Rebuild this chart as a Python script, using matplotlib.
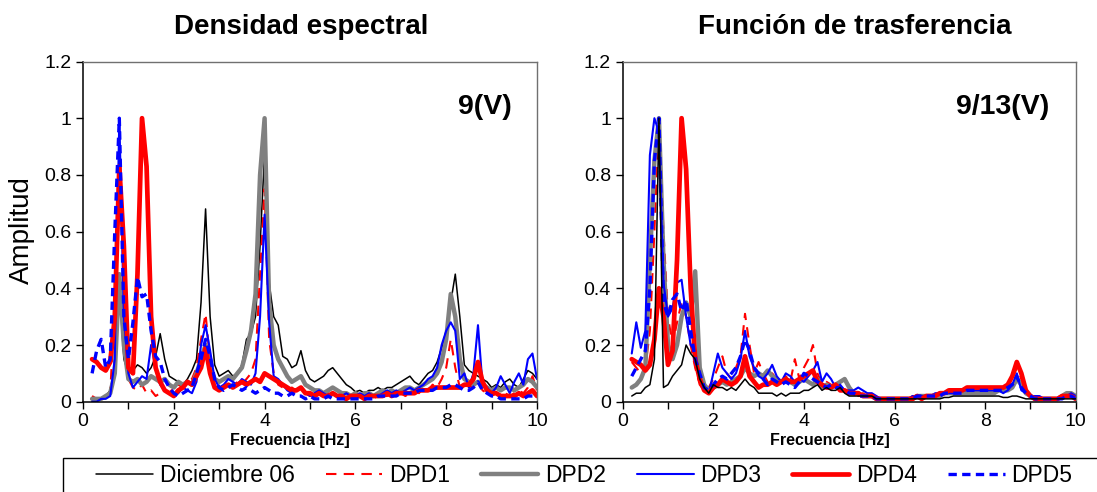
import numpy as np
import matplotlib
matplotlib.use('Agg')
import matplotlib.pyplot as plt
from matplotlib.ticker import MultipleLocator
from matplotlib.patches import Rectangle

plt.rcParams['font.family'] = ['Liberation Sans', 'DejaVu Sans']

# frequency grid [Hz], 0.2 .. 10.0
freq = np.round(np.arange(0.2, 10.001, 0.1), 1)

names = ["Diciembre 06", "DPD1", "DPD2", "DPD3", "DPD4", "DPD5"]

# ---- Densidad espectral (left) ----
dic_l = [0.01, 0.01, 0.01, 0.02, 0.04, 0.12, 0.40, 0.15, 0.10, 0.11,
         0.13, 0.12, 0.10, 0.12, 0.16, 0.24, 0.15, 0.09, 0.08, 0.07,
         0.06, 0.08, 0.11, 0.15, 0.35, 0.68, 0.30, 0.13, 0.09, 0.10,
         0.11, 0.09, 0.10, 0.13, 0.22, 0.24, 0.30, 0.55, 0.88, 0.42,
         0.30, 0.27, 0.16, 0.15, 0.12, 0.13, 0.18, 0.11, 0.08, 0.07,
         0.08, 0.09, 0.11, 0.12, 0.10, 0.08, 0.06, 0.05, 0.035, 0.04,
         0.03, 0.04, 0.04, 0.05, 0.04, 0.05, 0.05, 0.06, 0.07, 0.08,
         0.09, 0.07, 0.06, 0.08, 0.10, 0.11, 0.14, 0.19, 0.25, 0.35,
         0.45, 0.30, 0.13, 0.11, 0.10, 0.09, 0.08, 0.07, 0.05, 0.06,
         0.05, 0.07, 0.08, 0.06, 0.05, 0.08, 0.11, 0.10, 0.08]
dpd1_l = [0.02, 0.01, 0.01, 0.01, 0.03, 0.35, 0.70, 0.55, 0.08, 0.05,
          0.04, 0.06, 0.03, 0.04, 0.02, 0.03, 0.04, 0.03, 0.05, 0.06,
          0.05, 0.07, 0.08, 0.12, 0.22, 0.31, 0.14, 0.06, 0.04, 0.05,
          0.06, 0.05, 0.07, 0.06, 0.08, 0.10, 0.15, 0.45, 0.75, 0.22,
          0.10, 0.06, 0.05, 0.04, 0.05, 0.04, 0.03, 0.03, 0.02, 0.03,
          0.03, 0.02, 0.03, 0.02, 0.02, 0.03, 0.02, 0.01, 0.02, 0.02,
          0.01, 0.02, 0.02, 0.01, 0.02, 0.02, 0.03, 0.02, 0.03, 0.02,
          0.03, 0.04, 0.03, 0.05, 0.04, 0.06, 0.05, 0.08, 0.12, 0.22,
          0.12, 0.05, 0.04, 0.05, 0.06, 0.08, 0.04, 0.03, 0.02, 0.03,
          0.02, 0.03, 0.02, 0.03, 0.04, 0.03, 0.05, 0.09, 0.04]
dpd2_l = [0.01, 0.01, 0.01, 0.02, 0.03, 0.10, 0.45, 0.20, 0.08, 0.07,
          0.08, 0.06, 0.07, 0.09, 0.08, 0.07, 0.08, 0.06, 0.05, 0.07,
          0.06, 0.07, 0.06, 0.10, 0.15, 0.20, 0.12, 0.08, 0.07, 0.08,
          0.09, 0.08, 0.10, 0.12, 0.18, 0.25, 0.38, 0.80, 1.00, 0.35,
          0.20, 0.15, 0.12, 0.09, 0.07, 0.08, 0.09, 0.06, 0.05, 0.04,
          0.04, 0.03, 0.04, 0.05, 0.04, 0.03, 0.03, 0.02, 0.03, 0.02,
          0.03, 0.03, 0.02, 0.03, 0.04, 0.03, 0.04, 0.03, 0.04, 0.05,
          0.05, 0.04, 0.05, 0.06, 0.07, 0.08, 0.10, 0.14, 0.22, 0.38,
          0.30, 0.15, 0.08, 0.07, 0.06, 0.07, 0.06, 0.05, 0.04, 0.05,
          0.04, 0.05, 0.05, 0.04, 0.05, 0.06, 0.08, 0.07, 0.05]
dpd3_l = [0.00, 0.00, 0.01, 0.01, 0.02, 0.15, 1.00, 0.30, 0.10, 0.05,
          0.07, 0.09, 0.08, 0.20, 0.12, 0.06, 0.04, 0.03, 0.02, 0.03,
          0.05, 0.04, 0.03, 0.07, 0.20, 0.27, 0.18, 0.08, 0.05, 0.06,
          0.08, 0.07, 0.06, 0.08, 0.07, 0.06, 0.10, 0.30, 0.66, 0.28,
          0.09, 0.08, 0.06, 0.04, 0.03, 0.04, 0.05, 0.03, 0.02, 0.03,
          0.04, 0.03, 0.02, 0.03, 0.02, 0.02, 0.03, 0.02, 0.02, 0.03,
          0.02, 0.03, 0.02, 0.02, 0.03, 0.04, 0.03, 0.04, 0.03, 0.04,
          0.05, 0.04, 0.05, 0.06, 0.08, 0.09, 0.12, 0.20, 0.25, 0.28,
          0.25, 0.08, 0.10, 0.05, 0.10, 0.27, 0.06, 0.05, 0.03, 0.05,
          0.09, 0.06, 0.03, 0.07, 0.10, 0.06, 0.15, 0.17, 0.08]
dpd4_l = [0.15, 0.14, 0.12, 0.11, 0.14, 0.30, 0.83, 0.55, 0.12, 0.10,
          0.45, 1.00, 0.83, 0.30, 0.12, 0.07, 0.04, 0.03, 0.02, 0.04,
          0.05, 0.07, 0.06, 0.09, 0.12, 0.19, 0.10, 0.05, 0.04, 0.05,
          0.06, 0.05, 0.06, 0.07, 0.06, 0.07, 0.08, 0.07, 0.10, 0.09,
          0.08, 0.07, 0.06, 0.05, 0.04, 0.04, 0.05, 0.03, 0.03, 0.02,
          0.03, 0.02, 0.02, 0.03, 0.02, 0.02, 0.01, 0.02, 0.02, 0.02,
          0.01, 0.02, 0.02, 0.02, 0.02, 0.03, 0.02, 0.03, 0.03, 0.03,
          0.03, 0.03, 0.04, 0.04, 0.04, 0.05, 0.05, 0.05, 0.05, 0.05,
          0.05, 0.05, 0.06, 0.06, 0.08, 0.14, 0.07, 0.04, 0.03, 0.03,
          0.02, 0.02, 0.02, 0.02, 0.03, 0.02, 0.03, 0.04, 0.02]
dpd5_l = [0.10, 0.18, 0.22, 0.12, 0.15, 0.60, 1.00, 0.30, 0.15, 0.28,
          0.44, 0.37, 0.38, 0.25, 0.16, 0.14, 0.08, 0.05, 0.03, 0.02,
          0.03, 0.04, 0.05, 0.10, 0.15, 0.22, 0.16, 0.08, 0.05, 0.04,
          0.05, 0.06, 0.05, 0.04, 0.05, 0.04, 0.03, 0.04, 0.05, 0.04,
          0.03, 0.03, 0.02, 0.02, 0.03, 0.02, 0.02, 0.01, 0.02, 0.01,
          0.01, 0.01, 0.02, 0.01, 0.01, 0.01, 0.01, 0.01, 0.01, 0.01,
          0.01, 0.01, 0.01, 0.02, 0.02, 0.02, 0.02, 0.02, 0.03, 0.03,
          0.03, 0.03, 0.04, 0.04, 0.04, 0.04, 0.05, 0.05, 0.05, 0.06,
          0.06, 0.05, 0.04, 0.04, 0.05, 0.07, 0.04, 0.03, 0.02, 0.02,
          0.01, 0.01, 0.01, 0.01, 0.01, 0.01, 0.02, 0.02, 0.01]

# ---- Funcion de trasferencia (right) ----
dic_r = [0.02, 0.03, 0.03, 0.05, 0.06, 0.15, 1.00, 0.05, 0.06, 0.09,
         0.11, 0.13, 0.20, 0.17, 0.15, 0.08, 0.05, 0.03, 0.06, 0.05,
         0.05, 0.04, 0.05, 0.04, 0.06, 0.08, 0.06, 0.05, 0.03, 0.03,
         0.03, 0.03, 0.02, 0.03, 0.02, 0.03, 0.03, 0.03, 0.04, 0.04,
         0.05, 0.06, 0.04, 0.05, 0.04, 0.04, 0.05, 0.03, 0.02, 0.02,
         0.02, 0.02, 0.02, 0.02, 0.01, 0.01, 0.01, 0.01, 0.01, 0.01,
         0.01, 0.01, 0.01, 0.01, 0.01, 0.01, 0.01, 0.01, 0.01, 0.015,
         0.015, 0.02, 0.02, 0.02, 0.02, 0.02, 0.02, 0.02, 0.02, 0.02,
         0.02, 0.02, 0.015, 0.015, 0.02, 0.02, 0.015, 0.01, 0.01, 0.01,
         0.01, 0.01, 0.01, 0.01, 0.01, 0.01, 0.01, 0.01, 0.01]
dpd1_r = [0.14, 0.12, 0.10, 0.12, 0.25, 0.60, 1.00, 0.60, 0.30, 0.20,
          0.28, 0.35, 0.30, 0.20, 0.12, 0.06, 0.04, 0.05, 0.08, 0.12,
          0.16, 0.10, 0.08, 0.12, 0.16, 0.31, 0.20, 0.10, 0.14, 0.10,
          0.07, 0.10, 0.08, 0.06, 0.09, 0.07, 0.15, 0.08, 0.12, 0.15,
          0.20, 0.10, 0.06, 0.07, 0.06, 0.05, 0.05, 0.04, 0.03, 0.03,
          0.02, 0.03, 0.02, 0.02, 0.01, 0.01, 0.01, 0.01, 0.01, 0.01,
          0.01, 0.01, 0.02, 0.02, 0.01, 0.02, 0.02, 0.03, 0.02, 0.03,
          0.04, 0.03, 0.03, 0.04, 0.04, 0.04, 0.04, 0.05, 0.04, 0.05,
          0.05, 0.04, 0.04, 0.05, 0.08, 0.12, 0.08, 0.03, 0.02, 0.01,
          0.01, 0.01, 0.01, 0.01, 0.01, 0.02, 0.02, 0.03, 0.01]
dpd2_r = [0.05, 0.06, 0.08, 0.12, 0.50, 0.85, 1.00, 0.50, 0.20, 0.15,
          0.20, 0.30, 0.35, 0.30, 0.46, 0.12, 0.06, 0.04, 0.05, 0.06,
          0.07, 0.06, 0.07, 0.08, 0.09, 0.12, 0.10, 0.09, 0.10, 0.09,
          0.11, 0.09, 0.08, 0.07, 0.08, 0.07, 0.06, 0.07, 0.08, 0.07,
          0.06, 0.08, 0.05, 0.06, 0.05, 0.06, 0.07, 0.08, 0.05, 0.03,
          0.03, 0.02, 0.02, 0.02, 0.01, 0.01, 0.01, 0.01, 0.01, 0.01,
          0.01, 0.01, 0.01, 0.02, 0.02, 0.02, 0.02, 0.02, 0.02, 0.03,
          0.03, 0.03, 0.03, 0.03, 0.03, 0.03, 0.03, 0.03, 0.03, 0.03,
          0.03, 0.04, 0.04, 0.04, 0.05, 0.08, 0.06, 0.03, 0.02, 0.01,
          0.01, 0.01, 0.01, 0.01, 0.01, 0.02, 0.03, 0.03, 0.02]
dpd3_r = [0.17, 0.28, 0.19, 0.25, 0.87, 1.00, 0.95, 0.42, 0.30, 0.33,
          0.42, 0.43, 0.30, 0.20, 0.18, 0.08, 0.05, 0.03, 0.10, 0.17,
          0.12, 0.10, 0.08, 0.10, 0.15, 0.25, 0.16, 0.12, 0.09, 0.08,
          0.10, 0.13, 0.09, 0.07, 0.10, 0.09, 0.07, 0.08, 0.07, 0.09,
          0.11, 0.14, 0.07, 0.10, 0.08, 0.05, 0.06, 0.04, 0.04, 0.04,
          0.05, 0.04, 0.03, 0.03, 0.02, 0.01, 0.01, 0.01, 0.01, 0.01,
          0.01, 0.01, 0.02, 0.02, 0.02, 0.02, 0.02, 0.03, 0.03, 0.03,
          0.03, 0.03, 0.03, 0.04, 0.04, 0.04, 0.04, 0.04, 0.04, 0.04,
          0.04, 0.04, 0.03, 0.04, 0.06, 0.10, 0.04, 0.03, 0.02, 0.02,
          0.02, 0.01, 0.01, 0.01, 0.01, 0.02, 0.02, 0.03, 0.02]
dpd4_r = [0.15, 0.14, 0.13, 0.11, 0.13, 0.22, 0.40, 0.30, 0.13, 0.18,
          0.50, 1.00, 0.82, 0.40, 0.15, 0.08, 0.04, 0.03, 0.05, 0.06,
          0.08, 0.07, 0.06, 0.07, 0.09, 0.16, 0.09, 0.07, 0.05, 0.06,
          0.06, 0.07, 0.06, 0.07, 0.08, 0.07, 0.07, 0.08, 0.09, 0.10,
          0.11, 0.07, 0.06, 0.05, 0.05, 0.06, 0.04, 0.04, 0.03, 0.03,
          0.03, 0.02, 0.02, 0.02, 0.01, 0.01, 0.01, 0.01, 0.01, 0.01,
          0.01, 0.01, 0.01, 0.02, 0.01, 0.02, 0.02, 0.02, 0.03, 0.03,
          0.04, 0.04, 0.04, 0.04, 0.05, 0.05, 0.05, 0.05, 0.05, 0.05,
          0.05, 0.05, 0.05, 0.06, 0.09, 0.14, 0.10, 0.04, 0.02, 0.01,
          0.01, 0.01, 0.01, 0.01, 0.01, 0.02, 0.02, 0.02, 0.01]
dpd5_r = [0.09, 0.12, 0.15, 0.18, 0.40, 0.85, 1.00, 0.35, 0.30, 0.36,
          0.38, 0.32, 0.36, 0.25, 0.15, 0.10, 0.05, 0.04, 0.06, 0.08,
          0.09, 0.08, 0.10, 0.12, 0.16, 0.22, 0.18, 0.12, 0.10, 0.08,
          0.06, 0.08, 0.07, 0.06, 0.07, 0.06, 0.05, 0.07, 0.10, 0.09,
          0.08, 0.07, 0.06, 0.05, 0.06, 0.05, 0.05, 0.04, 0.03, 0.03,
          0.02, 0.02, 0.02, 0.02, 0.01, 0.01, 0.01, 0.01, 0.01, 0.01,
          0.01, 0.01, 0.01, 0.02, 0.02, 0.02, 0.02, 0.02, 0.02, 0.03,
          0.03, 0.03, 0.03, 0.03, 0.04, 0.04, 0.04, 0.04, 0.04, 0.04,
          0.04, 0.04, 0.04, 0.05, 0.06, 0.09, 0.05, 0.03, 0.02, 0.01,
          0.01, 0.01, 0.01, 0.01, 0.01, 0.01, 0.02, 0.02, 0.01]

left_data = [dic_l, dpd1_l, dpd2_l, dpd3_l, dpd4_l, dpd5_l]
right_data = [dic_r, dpd1_r, dpd2_r, dpd3_r, dpd4_r, dpd5_r]

# styles: colour, linewidth, dashes
styles = [dict(color='black', lw=1.1),
          dict(color='#ff0000', lw=1.5, dashes=(5, 3.5)),
          dict(color='#808080', lw=3.2),
          dict(color='#0000ff', lw=1.5),
          dict(color='#ff0000', lw=3.4),
          dict(color='#0000ff', lw=2.4, dashes=(2.5, 1.6))]

W, H = 1097, 492
fig = plt.figure(figsize=(W / 100, H / 100), dpi=100)

ax1 = fig.add_axes([83 / W, 1 - 401.7 / H, 454 / W, 340.2 / H])
ax2 = fig.add_axes([622.7 / W, 1 - 401.7 / H, 453 / W, 340.2 / H])


def setup(ax):
    ax.set_xlim(0, 10)
    ax.set_ylim(0, 1.2)
    ax.xaxis.set_minor_locator(MultipleLocator(1))
    ax.set_yticks([0, 0.2, 0.4, 0.6, 0.8, 1.0, 1.2])
    ax.set_yticklabels(['0', '0.2', '0.4', '0.6', '0.8', '1', '1.2'])
    ax.set_xticks([0, 2, 4, 6, 8, 10])
    ax.set_xticklabels(['0', '2', '4', '6', '8', '10'])
    ax.tick_params(which='both', direction='out', length=5, width=1.0,
                   labelsize=14, top=False, right=False)
    ax.tick_params(axis='x', pad=3)
    for s in ['left', 'bottom']:
        ax.spines[s].set_color('black')
        ax.spines[s].set_linewidth(1.1)
    for s in ['top', 'right']:
        ax.spines[s].set_color('#707070')
        ax.spines[s].set_linewidth(1.0)


lines = []
for d, st in zip(left_data, styles):
    ln, = ax1.plot(freq, d, solid_capstyle='round', **st)
    lines.append(ln)
for i, (d, st) in enumerate(zip(right_data, styles)):
    ax2.plot(freq, d, solid_capstyle='round', zorder=3 if i == 0 else 2, **st)

setup(ax1)
setup(ax2)

fig.text(485 / W, 1 - 107 / H, '9(V)', ha='center', va='center',
         fontsize=20.5, fontweight='bold')
fig.text(1003 / W, 1 - 107 / H, '9/13(V)', ha='center', va='center',
         fontsize=20.5, fontweight='bold')

fig.text(301 / W, 1 - 27 / H, 'Densidad espectral', ha='center', va='center',
         fontsize=20, fontweight='bold')
fig.text(855 / W, 1 - 27 / H, 'Función de trasferencia', ha='center',
         va='center', fontsize=20, fontweight='bold')

fig.text(22 / W, 1 - 230 / H, 'Amplitud', rotation=90, ha='center',
         va='center', fontsize=20)
fig.text(290 / W, 1 - 441 / H, 'Frecuencia [Hz]', ha='center', va='center',
         fontsize=11.5, fontweight='bold')
fig.text(830 / W, 1 - 441 / H, 'Frecuencia [Hz]', ha='center', va='center',
         fontsize=11.5, fontweight='bold')

# legend box running off the figure edge
fig.patches.append(Rectangle((63 / W, -0.1), 1.0, 0.1 + (H - 458) / H,
                             transform=fig.transFigure, fill=False,
                             edgecolor='black', linewidth=1.0))
fig.legend(lines, names, loc='center left',
           bbox_to_anchor=(96 / W, 1 - 476 / H), ncol=6, frameon=False,
           fontsize=16.5, handlelength=2.48, handletextpad=0.3,
           columnspacing=1.35, borderpad=0, borderaxespad=0)

fig.savefig('out.png', dpi=100)
